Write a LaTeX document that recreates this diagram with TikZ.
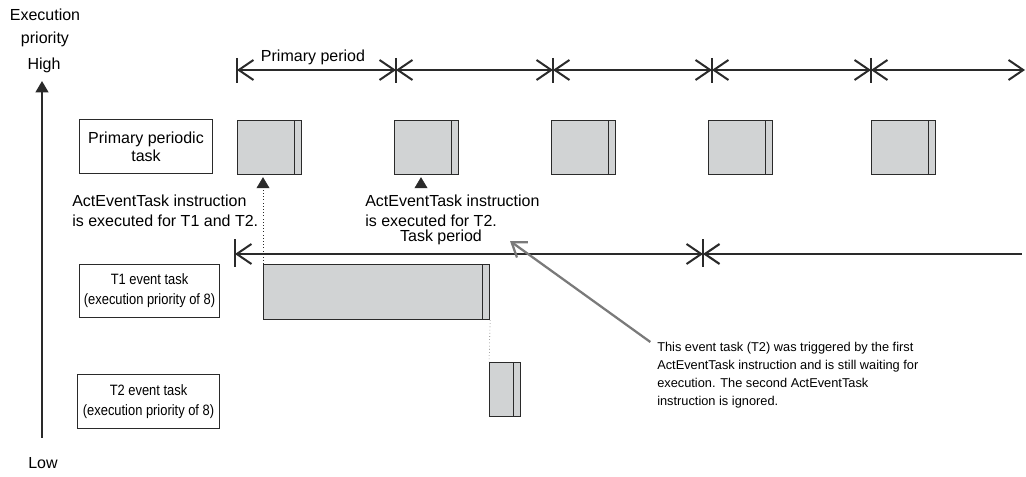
\documentclass[tikz,border=0pt]{standalone}
\usepackage{fontspec}
\setmainfont{Liberation Sans}
\newfontfamily\narrowsans[FakeStretch=0.86]{Liberation Sans}
\usetikzlibrary{arrows.meta, positioning}
\definecolor{barfill}{HTML}{D1D3D4}
\definecolor{inkgray}{HTML}{2A2A2A}
\definecolor{notegray}{HTML}{7A7A7A}
\tikzset{
  labelbox/.style={rectangle, draw=inkgray, line width=0.8pt, align=center,
                   inner sep=0pt, anchor=north west, font=\fontsize{12}{13.5}\selectfont},
  eventbox/.style={labelbox, font=\narrowsans\fontsize{11.25}{15}\selectfont},
  taskbar/.style={rectangle, draw=inkgray, fill=barfill, line width=0.9pt,
                  anchor=north west, inner sep=0pt, minimum height=40.5pt,
                  path picture={\draw[inkgray, line width=0.9pt]
                    ([xshift=-5.25pt]path picture bounding box.north east) --
                    ([xshift=-5.25pt]path picture bounding box.south east);}},
  period/.style={{Straight Barb[length=11pt,width=15pt]}-{Straight Barb[length=11pt,width=15pt]},
                 line width=1.5pt, color=inkgray},
  openend/.style={{Straight Barb[length=11pt,width=15pt]}-, line width=1.6pt, color=inkgray},
  periodtick/.style={line width=0.8pt, color=inkgray},
  trigger/.style={-{Triangle[length=8.25pt,width=9.75pt]}, color=inkgray},
  axisarrow/.style={-{Triangle[length=8.5pt,width=9.5pt]}, line width=1.6pt, color=inkgray},
  txt/.style={font=\fontsize{12}{15}\selectfont, inner sep=0pt},
  note/.style={font=\fontsize{9.6}{13.5}\selectfont, align=left, inner sep=0pt, anchor=north west},
}
\begin{document}
\begin{tikzpicture}[x=0.75pt, y=-0.75pt]
  \useasboundingbox (0,0) rectangle (1026,477);

  % priority axis
  \node[txt] (exec) at (45,15) {Execution};
  \node[txt] (prio) at (45,39) {priority};
  \node[txt] (high) at (44,65) {High};
  \node[txt] (low)  at (43,463) {Low};
  \coordinate (axislow)  at (42,438);
  \coordinate (axishigh) at (42,81);
  \draw[axisarrow] (axislow) -- (axishigh);

  % task names
  \node[labelbox, minimum width=99.75pt, minimum height=40.5pt] (primary) at (79,119)
    {Primary periodic\\task};
  \node[eventbox, minimum width=105pt, minimum height=39.75pt] (t1name) at (79,264)
    {T1 event task\\(execution priority of 8)};
  \node[eventbox, minimum width=106.5pt, minimum height=40.5pt] (t2name) at (77,374)
    {T2 event task\\(execution priority of 8)};

  % primary period
  \coordinate (p1) at (237,70);
  \coordinate (p2) at (396,70);
  \coordinate (p3) at (553,70);
  \coordinate (p4) at (712,70);
  \coordinate (p5) at (871,70);
  \coordinate (pend) at (1025,70);
  \foreach \a/\b in {p1/p2, p2/p3, p3/p4, p4/p5, p5/pend}
    \draw[period] (\a) -- (\b);
  \foreach \a in {p1, p2, p3, p4, p5}
    \draw[periodtick] ([yshift=9pt]\a) -- ([yshift=-9.5pt]\a);
  \node[txt] (pperiod) at (313,57) {Primary period};

  \foreach \x [count=\i] in {237,394,551,708,871}
    \node[taskbar, minimum width=48pt] (pbar\i) at (\x,120) {};

  % event tasks
  \node[taskbar, minimum width=169.5pt, minimum height=41.25pt] (t1bar) at (263,264) {};
  \node[taskbar, minimum width=23.25pt] (t2bar) at (489,362) {};

  \draw[trigger, dotted, shorten >=1.5pt] (t1bar.north west) -- (t1bar.north west |- pbar1.south);
  \coordinate (cmd2) at (421,187);
  \draw[trigger, shorten >=1.5pt] (cmd2) -- (cmd2 |- pbar2.south);
  \draw[dotted, inkgray] (t1bar.south east) -- (t2bar.north west);

  \node[txt, align=left, anchor=north west] (act1) at (72,195)
    {ActEventTask instruction\\is executed for T1 and T2.};
  \node[txt, align=left, anchor=north west] (act2) at (365,195)
    {ActEventTask instruction\\is executed for T2.};

  % task period
  \coordinate (q1) at (235,254);
  \coordinate (q2) at (703,254);
  \coordinate (qend) at (1022,254);
  \draw[period] (q1) -- (q2);
  \draw[openend] (q2) -- (qend);
  \foreach \a in {q1, q2}
    \draw[periodtick] ([yshift=11pt]\a) -- ([yshift=-10pt]\a);
  \node[txt] (tperiod) at (441,237) {Task period};

  % note
  \node[note] (ignored) at (657,342)
    {This event task (T2) was triggered by the first\\
     ActEventTask instruction and is still waiting for\\
     execution. The second ActEventTask\\
     instruction is ignored.};
  \coordinate (notetip) at (510,241);
  \draw[-{Straight Barb[length=10pt,width=14pt]}, line width=1.7pt, notegray]
    ([xshift=-5pt]ignored.north west) -- (notetip);
\end{tikzpicture}
\end{document}
